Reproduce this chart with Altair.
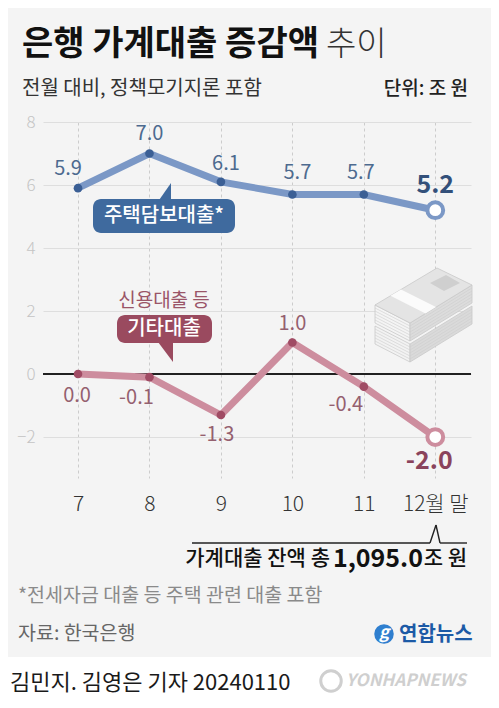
import json
import altair as alt
import pandas as pd

# ---------------- data ----------------
months = [7, 8, 9, 10, 11, 12]
x_labels = ["7", "8", "9", "10", "11", "12월 말"]
mortgage = [5.9, 7.0, 6.1, 5.7, 5.7, 5.2]
other = [0.0, -0.1, -1.3, 1.0, -0.4, -2.0]
y_ticks = [-2, 0, 2, 4, 6, 8]
series_names = ["주택담보대출", "기타대출"]

title_bold = "은행 가계대출 증감액"
title_light = "추이"
subtitle = "전월 대비, 정책모기지론 포함"
unit_text = "단위: 조 원"
mort_box = "주택담보대출*"
other_box = "기타대출"
other_note = "신용대출 등"
total_pre = "가계대출 잔액 총"
total_num = "1,095.0"
total_post = "조 원"
footnote = "*전세자금 대출 등 주택 관련 대출 포함"
source = "자료: 한국은행"
logo = "연합뉴스"
byline = "김민지. 김영은 기자  20240110"
watermark = "YONHAPNEWS"

# ---------------- style ----------------
FONT = "Noto Sans CJK KR"
BG = "#f4f4f4"
BLUE_LINE = "#7b98c6"
BLUE_DOT = "#3b5f95"
BLUE_BOX = "#3f6a9e"
BLUE_TXT = "#4d6a8f"
BLUE_BOLD = "#33507a"
RED_LINE = "#cd8d9e"
RED_DOT = "#a04b64"
RED_BOX = "#9a4a5f"
RED_TXT = "#94606f"
RED_BOLD = "#8a435c"

W, H = 428, 356

df = pd.DataFrame({
    "month": months * 2,
    "value": mortgage + other,
    "series": [series_names[0]] * 6 + [series_names[1]] * 6,
    "idx": list(range(6)) * 2,
})
df["label"] = df["value"].map(lambda v: f"{v:.1f}")

label_expr = f"{json.dumps(x_labels, ensure_ascii=False)}[datum.value - 7]"

X = alt.X("month:Q",
          scale=alt.Scale(domain=[6.51, 12.5], nice=False, zero=False),
          axis=alt.Axis(values=months, labelExpr=label_expr, title=None,
                        grid=True, gridDash=[3, 3], gridColor="#cccccc", gridWidth=1,
                        ticks=False, domain=False, labelFont=FONT, labelFontSize=21,
                        labelColor="#333333", labelPadding=15, labelFontWeight=300))
Y = alt.Y("value:Q",
          scale=alt.Scale(domain=[-3.3, 8], nice=False, zero=False),
          axis=alt.Axis(values=y_ticks, title=None, grid=True, gridColor="#dedede",
                        gridWidth=1, ticks=False, domain=False, labelFont=FONT,
                        labelFontSize=17, labelColor="#c4c4c4", labelPadding=8,
                        labelFontWeight=300))

base = alt.Chart(df)
layers = []

# white bottom band
layers.append(alt.Chart(df).mark_rect(color="white").encode(
    x=alt.value(-35), x2=alt.value(448), y=alt.value(535), y2=alt.value(580)))

# series lines / dots
def series_layers(name, line_c, dot_c):
    d = base.transform_filter(alt.datum.series == name)
    return [
        d.mark_line(color=line_c, strokeWidth=7).encode(x=X, y=Y),
        d.transform_filter(alt.datum.idx < 5).mark_circle(color=dot_c, size=75, opacity=1).encode(x=X, y=Y),
        d.transform_filter(alt.datum.idx == 5).mark_point(
            shape="circle", filled=True, fill="white", stroke=line_c, strokeWidth=4,
            size=250, opacity=1).encode(x=X, y=Y),
    ]

# axis + zero line first
layers.append(base.mark_line(opacity=0).encode(x=X, y=Y))
layers.append(alt.Chart(df).mark_rule(color="#222222", strokeWidth=1.4).encode(y=alt.datum(0)))
layers += series_layers(series_names[0], BLUE_LINE, BLUE_DOT)
layers += series_layers(series_names[1], RED_LINE, RED_DOT)

# value labels
def vlabel(series, idx, dx, dy, color, size, weight):
    return base.transform_filter(
        (alt.datum.series == series) & (alt.datum.idx == idx)
    ).mark_text(dx=dx, dy=dy, font=FONT, fontSize=size, fontWeight=weight,
                color=color, baseline="middle", align="center").encode(
        x=X, y=Y, text="label:N")

s0, s1 = series_names
blue_offsets = [(-10, -19), (0, -20), (5, -18), (5, -21), (-3, -21)]
for i, (dx, dy) in enumerate(blue_offsets):
    layers.append(vlabel(s0, i, dx, dy, BLUE_TXT, 20, 400))
layers.append(vlabel(s0, 5, 0, -25, BLUE_BOLD, 25, "bold"))
red_offsets = [(-1, 22), (-13, 21), (-4, 20), (0, -19), (-18, 18)]
for i, (dx, dy) in enumerate(red_offsets):
    layers.append(vlabel(s1, i, dx, dy, RED_TXT, 20, 400))
layers.append(vlabel(s1, 5, -6, 24, RED_BOLD, 25, "bold"))

one = alt.Chart(pd.DataFrame({"a": [0]}))

def txt(text, x, y, size, color, weight=400, align="left", style="normal"):
    return one.mark_text(text=text, font=FONT, fontSize=size, fontWeight=weight,
                         color=color, align=align, baseline="middle",
                         fontStyle=style).encode(x=alt.value(x), y=alt.value(y))

def shape(path, x, y, fill=None, stroke=None, sw=1):
    kw = dict(shape=path, size=4, opacity=1, strokeWidth=sw)
    if fill:
        kw.update(filled=True, fill=fill)
    else:
        kw.update(filled=False)
    if stroke:
        kw.update(stroke=stroke)
    else:
        kw.update(strokeWidth=0)
    return one.mark_point(**kw).encode(x=alt.value(x), y=alt.value(y))

# money stack illustration (anchor in pixel space)
ax, ay = 367, 183
faces = [
    ("M-35,21 L0,39 L0,57 L-35,39 Z", "#f2f2f2"),
    ("M0,39 L62,1 L62,19 L0,57 Z", "#dadada"),
    ("M-35,0 L0,18 L0,36 L-35,18 Z", "#f4f4f4"),
    ("M0,18 L62,-20 L62,-2 L0,36 Z", "#dcdcdc"),
    ("M-35,0 L27,-37 L62,-20 L0,18 Z", "#e4e4e4"),
]
for p, c in faces:
    layers.append(shape(p, ax, ay, fill=c, stroke="#c9c9c9", sw=0.8))
stripes = ""
for k in [3, 6, 9, 12, 15, 24, 27, 30, 33, 36]:
    stripes += f"M-35,{k} L0,{18 + k} L62,{-20 + k} "
layers.append(shape(stripes, ax, ay, stroke="#cccccc", sw=0.6))
layers.append(shape("M-19.5,-9.3 L-9,-15.5 L26,2 L15.5,8.5 Z", ax, ay, fill="#fbfbfb"))
layers.append(shape("M20,-22 L36,-30 L50,-22 L34,-14 Z", ax, ay, fill="#cfcfcf"))

# boxes
layers.append(one.mark_rect(color=BLUE_BOX, cornerRadius=8).encode(
    x=alt.value(50), x2=alt.value(192), y=alt.value(77), y2=alt.value(111)))
layers.append(shape("M-7,10 L7,10 L7,-10 Z", 121, 71, fill=BLUE_BOX))
layers.append(txt(mort_box, 121, 94, 20, "white", 500, "center"))

layers.append(one.mark_rect(color=RED_BOX, cornerRadius=8).encode(
    x=alt.value(74), x2=alt.value(169), y=alt.value(193), y2=alt.value(221)))
layers.append(shape("M-8,-10 L7,-10 L7,10 Z", 123, 230, fill=RED_BOX))
layers.append(txt(other_box, 121, 207, 20, "white", 500, "center"))
layers.append(txt(other_note, 121, 179, 19, "#9a5568", 400, "center"))

# header
layers.append(txt(title_bold, -21, -77, 34, "#111111", "bold"))
layers.append(txt(title_light, 283, -77, 33, "#333333", 300))
layers.append(txt(subtitle, -21, -33, 20, "#333333", 400))
layers.append(txt(unit_text, 425, -33, 19, "#222222", 500, "right"))

# total bracket
for x1, y1, x2, y2 in [(149, 421, 387, 421), (387, 421, 393, 403), (393, 403, 397, 421), (397, 421, 424, 421)]:
    layers.append(one.mark_rule(color="#222222", strokeWidth=1.4).encode(
        x=alt.value(x1), y=alt.value(y1), x2=alt.value(x2), y2=alt.value(y2)))
layers.append(txt(total_post, 424, 437, 21, "#111111", 500, "right"))
layers.append(txt(total_num, 380, 437, 25, "#111111", "bold", "right"))
layers.append(txt(total_pre, 287, 437, 21, "#111111", 500, "right"))

# footer
layers.append(txt(footnote, -25, 474, 19.5, "#8a8a8a", 400))
layers.append(txt(source, -25, 512, 19.5, "#666666", 400))
layers.append(one.mark_circle(color="#2f7fcf", size=380, opacity=1).encode(
    x=alt.value(341), y=alt.value(512)))
layers.append(txt("g", 341, 511, 17, "white", "bold", "center", "italic"))
layers.append(txt(logo, 356, 513, 20, "#1c5aa6", "bold"))
layers.append(txt(byline, -33, 561, 22, "#1a1a1a", 400))
layers.append(one.mark_point(shape="circle", filled=False, stroke="#cfcfcf", strokeWidth=3,
                             size=420, opacity=1).encode(x=alt.value(288), y=alt.value(559)))
layers.append(txt(watermark, 303, 559, 17, "#cfcfcf", "bold", "left", "italic"))

chart = alt.layer(*layers).properties(
    width=W, height=H,
    autosize=alt.AutoSizeParams(type="none"),
    padding={"left": 35, "top": 114, "right": 20, "bottom": 222},
    background=BG,
).configure_view(strokeWidth=0)

chart.save("out.html", embed_options={"renderer": "svg", "actions": False})
